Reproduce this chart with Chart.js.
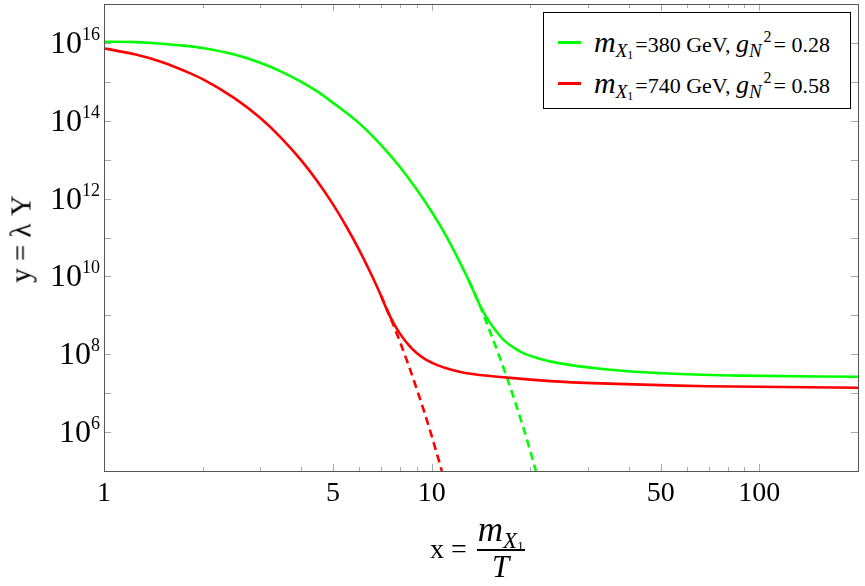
<!DOCTYPE html>
<html>
<head>
<meta charset="utf-8">
<script src="https://cdn.jsdelivr.net/npm/chart.js@4"></script>
<style>
  body { margin: 0; background: #fff; }
  #wrap { position: relative; width: 865px; height: 586px; font-family: "Liberation Serif", serif; }
  #legend { position: absolute; left: 543px; top: 12px; width: 306px; height: 95px; border: 1.5px solid #000; background: #fff; }
  .row { position: absolute; left: 0; height: 30px; font-size: 22px; line-height: 30px; white-space: nowrap; }
  .swatch { position: absolute; left: 14px; top: 14px; width: 23px; height: 2.5px; }
  .txt { position: absolute; left: 50px; top: 0; }
  .row .mi { font-size: 30px; }
  .row .gi { font-size: 26px; }
  .row sub { font-size: 19px; vertical-align: -5px; line-height: 0; margin-right: 2px; }
  .row sub sub { font-size: 12px; vertical-align: -2px; margin-right: 0; }
  .row sup { font-size: 16px; vertical-align: 10px; line-height: 0; margin-right: 2px; }
  #xtitle { position: absolute; left: 430px; top: 514px; font-size: 28px; white-space: nowrap; display: flex; align-items: center; }
  .frac { display: inline-flex; flex-direction: column; align-items: center; margin-left: 10px; }
  .num { border-bottom: 2px solid #000; padding: 0 1px 3px 1px; line-height: 32px; font-size: 35px; }
  .num sub { font-size: 23px; vertical-align: -7px; line-height: 0; }
  .num sub sub { font-size: 13px; vertical-align: -2px; }
  .den { line-height: 32px; font-size: 31px; }
  #ytitle { position: absolute; left: 21px; top: 239px; font-size: 29px; white-space: nowrap; transform: translate(-50%, -50%) rotate(-90deg); }
</style>
</head>
<body>
<div id="wrap">
  <canvas id="chart" width="865" height="586"></canvas>
  <div id="legend">
    <div class="row" style="top:14px"><span class="swatch" style="background:#00ff00"></span><span class="txt"><i class="mi">m</i><sub><i>X</i><sub>1</sub></sub>=380 GeV, <i class="gi">g</i><sub><i>N</i></sub><sup>2</sup>= 0.28</span></div>
    <div class="row" style="top:55px"><span class="swatch" style="background:#ff0000"></span><span class="txt"><i class="mi">m</i><sub><i>X</i><sub>1</sub></sub>=740 GeV, <i class="gi">g</i><sub><i>N</i></sub><sup>2</sup>= 0.58</span></div>
  </div>
  <div id="xtitle">x =<span class="frac"><span class="num"><i>m</i><sub><i>X</i><sub>1</sub></sub></span><span class="den"><i>T</i></span></span></div>
  <div id="ytitle">y = λ Y</div>
</div>
<script>
// mX1 = 380 GeV, gN^2 = 0.28 (green)
var greenX = [1, 1.25, 1.5, 1.75, 2, 2.5, 3, 3.5, 4, 4.5, 5, 6, 7, 8, 9, 10, 11, 12, 13, 14, 14.75, 15.45, 16.6, 17.8, 19.1, 21.5, 24.2, 34.3, 54.9, 87.8, 200];
var greenY = [1.07e16, 1.05e16, 9.55e15, 8.51e15, 7.41e15, 5.01e15, 3.09e15, 1.78e15, 1.0e15, 5.5e14, 2.88e14, 8.7e13, 2.4e13, 6.46e12, 1.7e12, 4.57e11, 1.2e11, 3.0e10, 7.6e9, 1.9e9, 8.5e8, 4.8e8, 2.3e8, 1.48e8, 1.05e8, 7.6e7, 6.0e7, 4.07e7, 3.16e7, 2.82e7, 2.63e7];
var greenDashX = [13, 14, 15, 16, 17, 18, 19, 20, 20.8];
var greenDashY = [7.6e9, 1.86e9, 4.17e8, 1.0e8, 2.4e7, 5.75e6, 1.38e6, 3.24e5, 1.0e5];

// mX1 = 740 GeV, gN^2 = 0.58 (red)
var redX = [1, 1.25, 1.5, 1.75, 2, 2.5, 3, 3.5, 4, 4.5, 5, 5.5, 6, 6.5, 7, 7.3, 7.65, 8, 8.5, 9, 9.6, 10.4, 11.5, 12.8, 17, 23, 32.8, 69.5, 200];
var redY = [7.24e15, 5.01e15, 3.24e15, 1.95e15, 1.17e15, 3.8e14, 1.17e14, 3.39e13, 9.55e12, 2.63e12, 7.08e11, 1.86e11, 4.9e10, 1.26e10, 3.24e9, 1.38e9, 6.3e8, 3.39e8, 1.74e8, 1.07e8, 7.24e7, 5.25e7, 3.98e7, 3.24e7, 2.51e7, 2.04e7, 1.78e7, 1.51e7, 1.38e7];
var redDashX = [7, 7.5, 8, 8.5, 9, 9.5, 10, 10.5, 10.74];
var redDashY = [3.24e9, 8.3e8, 2.09e8, 5.25e7, 1.29e7, 3.24e6, 7.94e5, 1.95e5, 1.0e5];

var xTicks = [1, 2, 3, 4, 5, 6, 7, 8, 9, 10, 20, 30, 40, 50, 60, 70, 80, 90, 100, 200];
var xLabels = [1, 5, 10, 50, 100];
var yTicks = [1e5, 1e6, 1e7, 1e8, 1e9, 1e10, 1e11, 1e12, 1e13, 1e14, 1e15, 1e16, 1e17];
var yLabelExps = [6, 8, 10, 12, 14, 16];

function pts(xs, ys) {
  return xs.map((x, i) => ({ x: x, y: ys[i] }));
}

function line(data, color, dashed) {
  return {
    data: data,
    borderColor: color,
    borderWidth: 2.6,
    borderDash: dashed ? [8, 5] : [],
    pointRadius: 0,
    cubicInterpolationMode: 'monotone',
    fill: false,
    order: dashed ? 2 : 1
  };
}

// frame with inward ticks on all four sides, plus 10^n labels
var frame = {
  id: 'frame',
  afterDatasetsDraw(chart) {
    var ctx = chart.ctx, a = chart.chartArea;
    var xs = chart.scales.x, ys = chart.scales.y;
    ctx.save();
    ctx.strokeStyle = '#aaa';
    ctx.lineWidth = 1;
    ctx.beginPath();
    xTicks.forEach(v => {
      var px = Math.round(xs.getPixelForValue(v)) + 0.5;
      var len = xLabels.includes(v) ? 7 : 4;
      ctx.moveTo(px, a.bottom); ctx.lineTo(px, a.bottom - len);
      ctx.moveTo(px, a.top); ctx.lineTo(px, a.top + len);
    });
    yTicks.forEach(v => {
      var py = Math.round(ys.getPixelForValue(v)) + 0.5;
      ctx.moveTo(a.left, py); ctx.lineTo(a.left + 7, py);
      ctx.moveTo(a.right, py); ctx.lineTo(a.right - 7, py);
    });
    ctx.stroke();
    ctx.strokeStyle = '#555';
    ctx.strokeRect(Math.round(a.left) + 0.5, Math.round(a.top) + 0.5, Math.round(a.right - a.left), Math.round(a.bottom - a.top));
    ctx.fillStyle = '#000';
    ctx.textAlign = 'right';
    ctx.textBaseline = 'alphabetic';
    yLabelExps.forEach(e => {
      var py = ys.getPixelForValue(Math.pow(10, e));
      var right = a.left - 4;
      ctx.font = '18px "Liberation Serif"';
      var ew = ctx.measureText(String(e)).width;
      ctx.fillText(String(e), right, py - 3);
      ctx.font = '32px "Liberation Serif"';
      ctx.fillText('10', right - ew, py + 10);
    });
    ctx.restore();
  }
};

new Chart(document.getElementById('chart'), {
  type: 'line',
  data: {
    datasets: [
      line(pts(greenX, greenY), '#00ff00', false),
      line(pts(redX, redY), '#ff0000', false),
      line(pts(greenDashX, greenDashY), '#00ff00', true),
      line(pts(redDashX, redDashY), '#ff0000', true)
    ]
  },
  options: {
    responsive: false,
    devicePixelRatio: 1,
    animation: false,
    layout: { padding: { top: 4, right: 7, left: 0, bottom: 0 } },
    plugins: { legend: { display: false }, tooltip: { enabled: false } },
    scales: {
      x: {
        type: 'logarithmic',
        min: 1,
        max: 200,
        grid: { display: false, drawTicks: false },
        border: { display: false },
        afterBuildTicks: s => { s.ticks = xTicks.map(v => ({ value: v })); },
        afterFit: s => { s.height = 115; },
        ticks: {
          autoSkip: false,
          maxRotation: 0,
          padding: 6,
          color: '#000',
          font: { family: 'Liberation Serif', size: 28 },
          callback: v => xLabels.includes(v) ? String(v) : ''
        }
      },
      y: {
        type: 'logarithmic',
        min: 1e5,
        max: 1e17,
        grid: { display: false, drawTicks: false },
        border: { display: false },
        afterBuildTicks: s => { s.ticks = yTicks.map(v => ({ value: v })); },
        afterFit: s => { s.width = 104; },
        ticks: { display: false }
      }
    }
  },
  plugins: [frame]
});
</script>
</body>
</html>
